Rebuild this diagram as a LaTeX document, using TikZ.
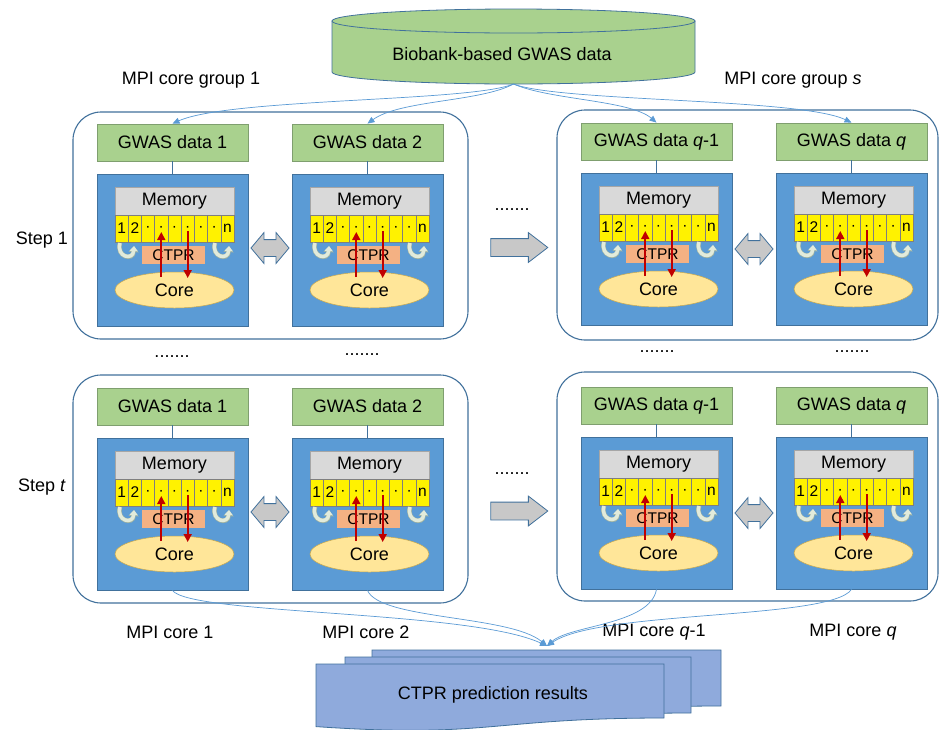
\documentclass[tikz,border=0pt]{standalone}
\usepackage{fontspec}
\setmainfont{Liberation Sans}
\usetikzlibrary{shapes.geometric,shapes.arrows,arrows.meta,calc}
\definecolor{gfill}{HTML}{A9D18E}
\definecolor{gdraw}{HTML}{7F9F6F}
\definecolor{bfill}{HTML}{5B9BD5}
\definecolor{bdraw}{HTML}{41719C}
\definecolor{memfill}{HTML}{D9D9D9}
\definecolor{memdraw}{HTML}{A6A6A6}
\definecolor{ctprfill}{HTML}{F4B183}
\definecolor{corefill}{HTML}{FFE699}
\definecolor{coredraw}{HTML}{C9A94E}
\definecolor{redarrow}{HTML}{C00000}
\definecolor{linkblue}{HTML}{5B9BD5}
\definecolor{docfill}{HTML}{8FAADC}
\definecolor{arrgrey}{HTML}{C8C8C8}
\definecolor{uturn}{HTML}{E2EBDB}
\definecolor{uturnd}{HTML}{9FB3A3}
\definecolor{celldraw}{HTML}{7F7F7F}
\tikzset{
 big/.style={font=\fontsize{18}{21}\selectfont},
 small/.style={font=\fontsize{15.5}{17}\selectfont},
 gwasbox/.style={draw=gdraw, fill=gfill, line width=0.8, minimum width=151, minimum height=37, inner sep=0, big},
 corebox/.style={draw=bdraw, fill=bfill, line width=0.8, minimum width=151, minimum height=152, inner sep=0},
 membox/.style={draw=memdraw, fill=memfill, line width=0.5, minimum width=119, minimum height=28, inner sep=0, big},
 cellbox/.style={draw=celldraw, fill=yellow, line width=0.5, minimum width=13.22, minimum height=27, inner sep=0, small},
 ctprbox/.style={fill=ctprfill, minimum width=63, minimum height=18, inner sep=0, small},
 coreell/.style={ellipse, draw=coredraw, fill=corefill, line width=0.5, minimum width=119, minimum height=36, inner sep=0, big},
 redarr/.style={draw=redarrow, line width=1.6, -{Triangle[length=8,width=8]}},
 uarr/.style={draw=uturn, line width=3.5, -{Triangle[length=5,width=8]},
   preaction={draw=uturnd, line width=4.6, -{Triangle[length=6.2,width=9.6]}}},
 link/.style={draw=bdraw, line width=1.2},
 flow/.style={draw=linkblue, line width=0.7, -{Triangle[length=7,width=6]}},
 grp/.style={draw=bdraw, line width=1.1, rounded corners=28, inner sep=0},
 darr/.style={double arrow, draw=bdraw, fill=arrgrey, line width=0.8, minimum height=38, minimum width=0, inner xsep=0, inner ysep=8, double arrow head extend=7, double arrow tip angle=100},
 rarr/.style={single arrow, draw=bdraw, fill=arrgrey, line width=0.8, minimum height=57, minimum width=0, inner xsep=0, inner ysep=8.5, single arrow head extend=6, single arrow tip angle=75},
 lbl/.style={big, inner sep=0},
 doc/.style={draw=bdraw, fill=docfill, line width=0.8},
}
\newcommand{\mymodule}[4]{%
 \begin{scope}[shift={(#2,#3)}]
  \node[corebox] (#1b) at (75.5,126) {};
  \node[gwasbox] (#1g) at (75.5,18.5) {GWAS data #4};
  \draw[link] (#1g.south) -- (#1b.north);
  \node[membox] (#1m) at (77.5,77) {Memory};
  \foreach \i/\t in {1/1,2/2,3/·,4/·,5/·,6/·,7/·,8/·,9/n}
    \node[cellbox] (#1x\i) at ({18+13.22*(\i-0.5)},104.5) {\t};
  \node[ctprbox] (#1t) at (76.5,131) {CTPR};
  \node[coreell] (#1c) at (77.5,166) {Core};
  \draw[redarr] ($(#1x4 |- #1c)+(0,-13)$) -- ($(#1x4)+(0,3.5)$);
  \draw[redarr] ($(#1x6)+(0,2.5)$) -- ($(#1x6 |- #1c)+(0,-12)$);
  \draw[uarr] (23,119) .. controls (19,133) and (36,137) .. (37,122);
  \draw[uarr] (118,119) .. controls (114,133) and (131,137) .. (132,122);
 \end{scope}}
\begin{document}
\begin{tikzpicture}[x=1pt,y=-1pt]
\fill[white] (0,0) rectangle (940,729);
\useasboundingbox (0,0) rectangle (940,729);
% cylinder
\filldraw[draw=bdraw, fill=gfill, line width=0.8] (332,21) -- (332,72) arc[start angle=180, end angle=0, x radius=181.5, y radius=12] -- (695,21) -- cycle;
\filldraw[draw=bdraw, fill=gfill, line width=0.8] (513.5,21) ellipse[x radius=181.5, y radius=12];
\node[lbl] (bio) at (502,54) {Biobank-based GWAS data};
\coordinate (cylb) at (513.5,84);
% labels
\node[lbl] (lg1) at (191,80) {MPI core group 1};
\node[lbl] (lgs) at (793,80) {MPI core group \textit{s}};
\node[lbl] (st1) at (42,240) {Step 1};
\node[lbl] (stt) at (42,487) {Step \textit{t}};
% group boxes
\node[grp, minimum width=395, minimum height=227] (g11) at (270.5,225.5) {};
\node[grp, minimum width=381, minimum height=230] (g1s) at (747.5,225) {};
\node[grp, minimum width=395, minimum height=228] (gt1) at (270.5,489) {};
\node[grp, minimum width=381, minimum height=229] (gts) at (747.5,486.5) {};
% modules
\mymodule{a}{97}{124}{1}
\mymodule{b}{292}{124}{2}
\mymodule{c}{581}{123}{\textit{q}-1}
\mymodule{d}{776}{123}{\textit{q}}
\mymodule{e}{97}{388}{1}
\mymodule{f}{292}{388}{2}
\mymodule{g}{581}{387}{\textit{q}-1}
\mymodule{h}{776}{387}{\textit{q}}
% arrows between modules
\node[darr] (da1) at (270,248) {};
\node[darr] (da2) at (754,249) {};
\node[darr] (da3) at (270,512) {};
\node[darr] (da4) at (754,513) {};
\node[rarr] (ra1) at (513.5,247.5) {};
\node[rarr] (ra2) at (513.5,511) {};
% dots
\node[lbl] (dt1) at (512,210) {.......};
\node[lbl] (dt2) at (512,474) {.......};
\node[lbl] (dt3) at (172,357) {.......};
\node[lbl] (dt4) at (362,355) {.......};
\node[lbl] (dt5) at (657,352) {.......};
\node[lbl] (dt6) at (852,352) {.......};
% top flows
\draw[flow] (cylb) .. controls (470,102) and (230,98) .. (ag.north);
\draw[flow] (cylb) .. controls (480,102) and (400,100) .. (bg.north);
\draw[flow] (cylb) .. controls (550,100) and (630,100) .. (cg.north);
\draw[flow] (cylb) .. controls (560,102) and (800,98) .. (dg.north);
% bottom labels
\node[lbl] (mc1) at (170,632) {MPI core 1};
\node[lbl] (mc2) at (366,632) {MPI core 2};
\node[lbl] (mc3) at (654,632) {MPI core \textit{q}-1};
\node[lbl] (mc4) at (853,632) {MPI core \textit{q}};
% documents
\filldraw[doc] (372,650) -- (721,650) -- (721,706) .. controls (546.5,706) and (546.5,727) .. (372,715) -- cycle;
\filldraw[doc] (345,657) -- (691,657) -- (691,713) .. controls (518,713) and (518,734) .. (345,722) -- cycle;
\filldraw[doc] (316,664) -- (664,664) -- (664,718) .. controls (490,718) and (490,738.5) .. (316,726.6) -- cycle;
\node[lbl] (res) at (493,695) {CTPR prediction results};
\coordinate (meet) at (547,646);
% bottom flows
\draw[flow] (eb.south) .. controls (190,615) and (470,610) .. (meet);
\draw[flow] (fb.south) .. controls (380,620) and (510,615) .. (meet);
\draw[flow] (gb.south) .. controls (650,625) and (570,625) .. (meet);
\draw[flow] (hb.south) .. controls (830,620) and (600,610) .. (meet);
\end{tikzpicture}
\end{document}
